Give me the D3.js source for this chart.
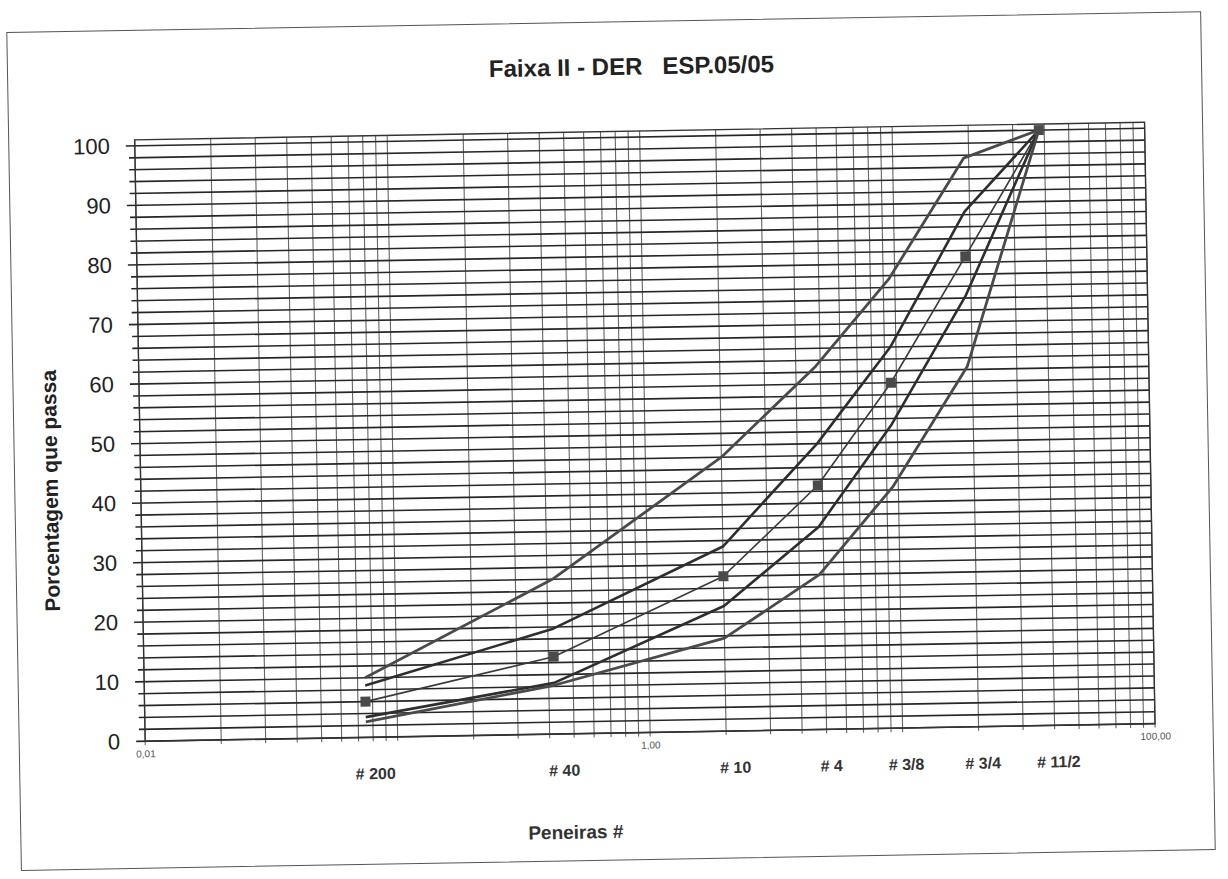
<!DOCTYPE html>
<html>
<head>
<meta charset="utf-8">
<script src="https://cdn.jsdelivr.net/npm/d3@7"></script>
<style>
  html, body { margin: 0; padding: 0; background: #fff; }
  svg { display: block; }
</style>
</head>
<body>
<svg id="chart" width="1228" height="879"></svg>
<script>
// Sieve series (ABNT / ASTM openings in mm) and the grading curves, % passing
const sieveLabels    = ["# 200", "# 40", "# 10", "# 4", "# 3/8", "# 3/4", "# 11/2"];
const sieveOpenings  = [0.075, 0.42, 2.0, 4.8, 9.5, 19.1, 38.1];
const upperLimit     = [10, 26, 46, 61, 75.5, 95.5, 100];
const upperTolerance = [8.7, 17.7, 31, 48, 64, 86.5, 100];
const projectCurve   = [6, 13, 26, 41, 58, 79, 100];
const lowerTolerance = [3.4, 8.6, 21, 34, 51, 72.5, 100];
const lowerLimit     = [2.6, 8.2, 15.6, 26, 40.5, 60.5, 100];
const xTickValues    = [0.01, 1, 100];
const xTickLabels    = ["0,01", "1,00", "100,00"];
const yTickValues    = [0, 10, 20, 30, 40, 50, 60, 70, 80, 90, 100];

const plot = { left: 140, right: 1150, top: 131.5, bottom: 733 };
const FONT = "Liberation Sans, Arial, sans-serif";

const svg = d3.select("#chart");
// whole sheet sits slightly tilted
const sheet = svg.append("g").attr("transform", "rotate(-1.0, 614, 440)");

// outer frame of the chart sheet
sheet.append("rect")
  .attr("x", 14).attr("y", 22).attr("width", 1194).attr("height", 838)
  .attr("fill", "none").attr("stroke", "#555").attr("stroke-width", 1);

const x = d3.scaleLog().domain([0.01, 100]).range([plot.left, plot.right]);
const y = d3.scaleLinear().domain([0, 100]).range([plot.bottom, 137.5]);

// vertical log grid (1..9 within each decade)
const vLines = x.ticks();
sheet.append("g").selectAll("line").data(vLines).join("line")
  .attr("x1", d => x(d)).attr("x2", d => x(d))
  .attr("y1", plot.top).attr("y2", plot.bottom + 4)
  .attr("stroke", "#666").attr("stroke-width", 1.1);

// horizontal grid every 2 %
const hLines = d3.range(0, 101, 2);
sheet.append("g").selectAll("line").data(hLines).join("line")
  .attr("x1", d => plot.left - (d % 10 === 0 ? 9 : 6)).attr("x2", plot.right)
  .attr("y1", d => y(d)).attr("y2", d => y(d))
  .attr("stroke", "#262626").attr("stroke-width", 1.6);

// plot border
sheet.append("rect")
  .attr("x", plot.left).attr("y", plot.top)
  .attr("width", plot.right - plot.left).attr("height", plot.bottom - plot.top)
  .attr("fill", "none").attr("stroke", "#333").attr("stroke-width", 1.4);

// y axis labels
const yAxis = d3.axisLeft(y).tickValues(yTickValues).tickSize(0).tickPadding(25);
sheet.append("g").attr("transform", `translate(${plot.left},0)`).call(yAxis)
  .call(g => g.select(".domain").remove())
  .call(g => g.selectAll("text")
    .attr("font-family", FONT)
    .attr("font-size", 22).attr("fill", "#222"));

// x axis numeric labels
const xAxis = d3.axisBottom(x).tickValues(xTickValues)
  .tickFormat((d, i) => xTickLabels[i]).tickSize(0).tickPadding(9);
sheet.append("g").attr("transform", `translate(0,${plot.bottom})`).call(xAxis)
  .call(g => g.select(".domain").remove())
  .call(g => g.selectAll("text")
    .attr("font-family", FONT)
    .attr("font-size", 10).attr("fill", "#555"));

// sieve names under the axis
sheet.append("g").selectAll("text").data(sieveLabels).join("text")
  .attr("x", (d, i) => x(sieveOpenings[i]) + 9)
  .attr("y", 775)
  .attr("text-anchor", "middle")
  .attr("font-family", FONT)
  .attr("font-weight", "bold").attr("font-size", 16).attr("fill", "#333")
  .text(d => d);

// grading curves
const line = d3.line().x(d => x(d[0])).y(d => y(d[1]));
const curves = [
  { values: upperLimit,     color: "#4a4a4a", width: 2.8 },
  { values: upperTolerance, color: "#2e2e2e", width: 2.6 },
  { values: projectCurve,   color: "#3a3a3a", width: 1.6 },
  { values: lowerTolerance, color: "#2e2e2e", width: 2.6 },
  { values: lowerLimit,     color: "#4a4a4a", width: 2.8 }
];
sheet.append("g").selectAll("path").data(curves).join("path")
  .attr("d", c => line(sieveOpenings.map((s, i) => [s, c.values[i]])))
  .attr("fill", "none")
  .attr("stroke", c => c.color)
  .attr("stroke-width", c => c.width)
  .attr("stroke-linejoin", "round");

// project curve markers
sheet.append("g").selectAll("rect").data(projectCurve).join("rect")
  .attr("x", (d, i) => x(sieveOpenings[i]) - 5)
  .attr("y", d => y(d) - 5)
  .attr("width", 10).attr("height", 10)
  .attr("fill", "#4a4a4a");

// titles
sheet.append("text")
  .attr("x", 638).attr("y", 75)
  .attr("text-anchor", "middle")
  .attr("font-family", FONT)
  .attr("font-weight", "bold").attr("font-size", 24).attr("fill", "#222")
  .attr("xml:space", "preserve")
  .text("Faixa II - DER   ESP.05/05");

sheet.append("text")
  .attr("transform", "translate(57,481) rotate(-90)")
  .attr("text-anchor", "middle")
  .attr("font-family", FONT)
  .attr("font-weight", "bold").attr("font-size", 21).attr("fill", "#222")
  .text("Porcentagem que passa");

sheet.append("text")
  .attr("x", 569).attr("y", 838)
  .attr("text-anchor", "middle")
  .attr("font-family", FONT)
  .attr("font-weight", "bold").attr("font-size", 19).attr("fill", "#333")
  .text("Peneiras #");
</script>
</body>
</html>
